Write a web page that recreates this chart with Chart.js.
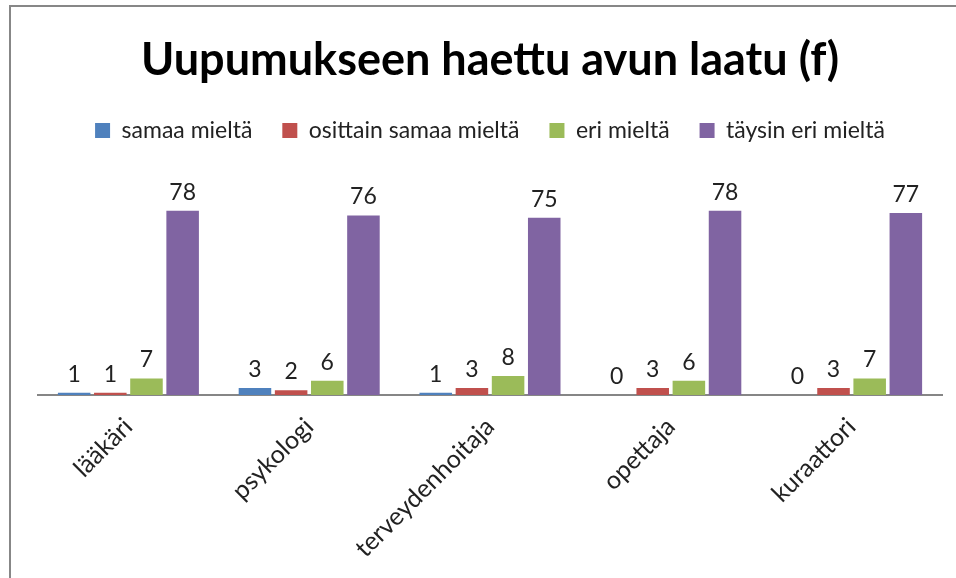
<!DOCTYPE html>
<html>
<head>
<meta charset="utf-8">
<script src="https://cdn.jsdelivr.net/npm/chart.js@4"></script>
<style>
  html, body { margin: 0; padding: 0; background: #fff; }
  #wrap { width: 956px; height: 578px; }
</style>
</head>
<body>
<div id="wrap"><canvas id="avunLaatuChart" width="956" height="578"></canvas></div>
<script>
var categories = ['lääkäri', 'psykologi', 'terveydenhoitaja', 'opettaja', 'kuraattori'];
var samaaMielta = [1, 3, 1, 0, 0];
var osittainSamaaMielta = [1, 2, 3, 3, 3];
var eriMielta = [7, 6, 8, 6, 7];
var taysinEriMielta = [78, 76, 75, 78, 77];

// frame lines like the original picture (left + top)
var framePlugin = {
    id: 'frame',
    beforeDraw: function(chart) {
        var ctx = chart.ctx;
        ctx.save();
        ctx.fillStyle = '#fff';
        ctx.fillRect(0, 0, chart.width, chart.height);
        ctx.strokeStyle = '#878787';
        ctx.lineWidth = 2;
        ctx.beginPath();
        ctx.moveTo(10, chart.height);
        ctx.lineTo(10, 6);
        ctx.lineTo(chart.width, 6);
        ctx.stroke();
        ctx.restore();
    }
};

// value above each bar
var valueLabels = {
    id: 'valueLabels',
    afterDatasetsDraw: function(chart) {
        var ctx = chart.ctx;
        ctx.save();
        ctx.font = '23px Lato';
        ctx.fillStyle = '#222';
        ctx.textAlign = 'center';
        ctx.textBaseline = 'bottom';
        chart.data.datasets.forEach(function(ds, i) {
            chart.getDatasetMeta(i).data.forEach(function(bar, j) {
                ctx.fillText(ds.data[j], bar.x, bar.y - 7);
            });
        });
        ctx.restore();
    }
};

// extra room under the legend
var legendMargin = {
    id: 'legendMargin',
    beforeInit: function(chart) {
        var fit = chart.legend.fit;
        chart.legend.fit = function() {
            fit.bind(chart.legend)();
            this.height += 54;
        };
    }
};

new Chart(document.getElementById('avunLaatuChart').getContext('2d'), {
    type: 'bar',
    data: {
        labels: categories,
        datasets: [
            { label: 'samaa mieltä', data: samaaMielta, backgroundColor: '#4F81BD' },
            { label: 'osittain samaa mieltä', data: osittainSamaaMielta, backgroundColor: '#C0504D' },
            { label: 'eri mieltä', data: eriMielta, backgroundColor: '#9BBB59' },
            { label: 'täysin eri mieltä', data: taysinEriMielta, backgroundColor: '#8064A2' }
        ]
    },
    options: {
        responsive: false,
        animation: false,
        layout: { padding: { left: 38, right: 14, top: 0, bottom: 0 } },
        plugins: {
            title: {
                display: true,
                text: 'Uupumukseen haettu avun laatu (f)',
                font: { family: 'Lato', size: 45, weight: 'bold' },
                color: '#000',
                padding: { top: 33, bottom: 2 }
            },
            legend: {
                position: 'top',
                labels: {
                    font: { family: 'Lato', size: 23 },
                    color: '#222',
                    boxWidth: 15,
                    boxHeight: 15,
                    padding: 30
                }
            },
            tooltip: { enabled: false }
        },
        scales: {
            x: {
                grid: { display: false },
                border: { display: true, color: '#868686', width: 2 },
                ticks: {
                    font: { family: 'Lato', size: 25 },
                    color: '#222',
                    maxRotation: 45,
                    minRotation: 45,
                    padding: 9
                },
                afterFit: function(scale) { scale.height = 183; }
            },
            y: {
                display: false,
                beginAtZero: true
            }
        }
    },
    plugins: [framePlugin, valueLabels, legendMargin]
});
</script>
</body>
</html>
